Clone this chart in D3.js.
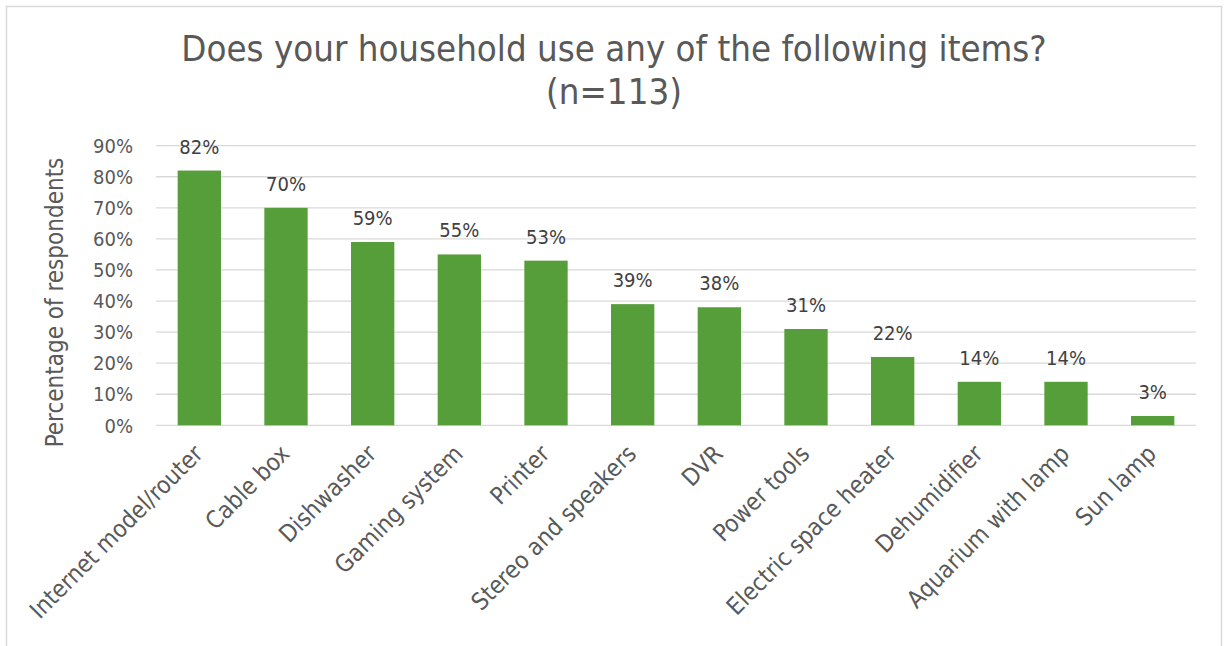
<!DOCTYPE html>
<html><head><meta charset="utf-8">
<script src="https://d3js.org/d3.v7.min.js"></script>
<style>body{margin:0;background:#fff}svg{display:block}text{font-family:"DejaVu Sans Condensed","DejaVu Sans",sans-serif;font-stretch:condensed}</style>
</head><body>
<script>
const categories = ["Internet model/router","Cable box","Dishwasher","Gaming system","Printer","Stereo and speakers","DVR","Power tools","Electric space heater","Dehumidifier","Aquarium with lamp","Sun lamp"];
const values = [82,70,59,55,53,39,38,31,22,14,14,3];
const yTicks = [0,10,20,30,40,50,60,70,80,90];
const titleLines = ["Does your household use any of the following items?","(n=113)"];
const yTitle = "Percentage of respondents";

const W=1225,H=646;
const svg=d3.select("body").append("svg").attr("width",W).attr("height",H);
svg.append("rect").attr("x",6.5).attr("y",6.5).attr("width",1215).attr("height",660).attr("fill","#fff").attr("stroke","#D9D9D9").attr("stroke-width",1.5);

const m={l:156,r:1196,t:145.7,b:425.3};
const x=d3.scaleBand().domain(categories).range([m.l,m.r]).paddingInner(0.5).paddingOuter(0.25);
const y=d3.scaleLinear().domain([0,90]).range([m.b,m.t]);

svg.append("g").selectAll("line").data(yTicks).join("line")
 .attr("x1",m.l).attr("x2",m.r).attr("y1",d=>y(d)).attr("y2",d=>y(d))
 .attr("stroke","#D9D9D9").attr("stroke-width",1.3);

svg.append("g").selectAll("text").data(yTicks).join("text")
 .attr("x",133).attr("y",d=>y(d)).attr("dy","0.36em").attr("text-anchor","end")
 .attr("font-size",20).attr("fill","#595959").text(d=>d+"%");

svg.append("g").selectAll("rect").data(values).join("rect")
 .attr("x",(d,i)=>x(categories[i])).attr("width",x.bandwidth())
 .attr("y",d=>y(d)).attr("height",d=>y(0)-y(d)).attr("fill","#559E3A");

svg.append("g").selectAll("text").data(values).join("text")
 .attr("x",(d,i)=>x(categories[i])+x.bandwidth()/2).attr("y",d=>y(d)-17)
 .attr("text-anchor","middle").attr("font-size",20).attr("fill","#404040").text(d=>d+"%");

svg.append("g").selectAll("text").data(categories).join("text")
 .attr("transform",d=>`translate(${x(d)+x.bandwidth()/2+5},${m.b+30}) rotate(-45)`)
 .attr("text-anchor","end").attr("font-size",24).attr("fill","#595959").text(d=>d);

svg.append("text").attr("transform",`translate(63,${(m.t+m.b)/2+17}) rotate(-90)`)
 .attr("text-anchor","middle").attr("font-size",24).attr("fill","#595959").text(yTitle);

svg.append("g").selectAll("text").data(titleLines).join("text")
 .attr("x",614).attr("y",(d,i)=>61+i*43).attr("text-anchor","middle")
 .attr("font-size",36.3).attr("fill","#595959").text(d=>d);
</script>
</body></html>
